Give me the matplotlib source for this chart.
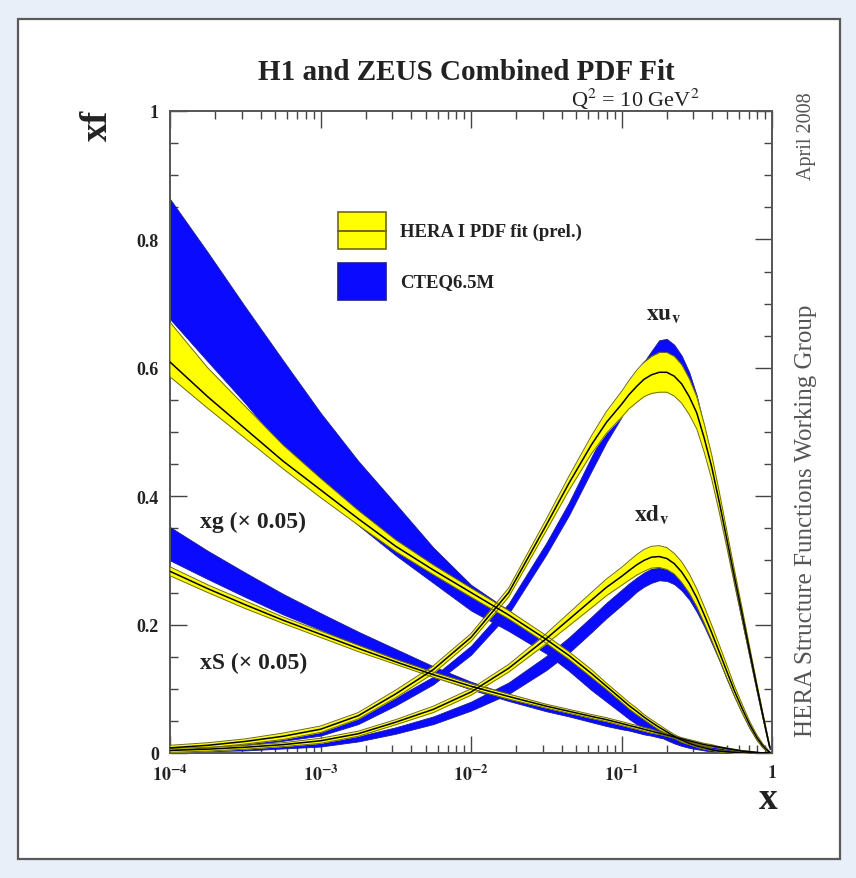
import numpy as np
import matplotlib.pyplot as plt
from matplotlib.patches import Rectangle
from matplotlib.ticker import LogLocator, MultipleLocator, FuncFormatter, NullFormatter

plt.rcParams['font.family'] = ['Liberation Serif', 'DejaVu Serif']
plt.rcParams['mathtext.fontset'] = 'stix'

x = [1e-4, 1.78e-4, 3.16e-4, 5.62e-4, 1e-3, 1.78e-3, 3.16e-3, 5.62e-3, 0.01, 0.0178, 0.0316, 0.0447,
     0.0631, 0.0794, 0.1, 0.112, 0.126, 0.141, 0.158, 0.178, 0.2, 0.224, 0.251, 0.282,
     0.316, 0.355, 0.398, 0.447, 0.501, 0.562, 0.631, 0.708, 0.794, 0.871, 0.933, 0.966]

# gluon (x 0.05)
g_hera = [0.609, 0.555, 0.505, 0.455, 0.410, 0.365, 0.322, 0.285, 0.250, 0.215, 0.177, 0.152,
          0.124, 0.104, 0.084, 0.074, 0.065, 0.056, 0.048, 0.040, 0.033, 0.026, 0.020, 0.015,
          0.011, 0.008, 0.005, 0.003, 0.002, 0.001, 0, 0, 0, 0, 0, 0]
g_hera_lo = [0.586, 0.537, 0.490, 0.443, 0.398, 0.355, 0.314, 0.278, 0.243, 0.209, 0.171, 0.146,
             0.118, 0.099, 0.079, 0.069, 0.060, 0.052, 0.044, 0.036, 0.030, 0.023, 0.017, 0.013,
             0.009, 0.006, 0.004, 0.002, 0.001, 0, 0, 0, 0, 0, 0, 0]
g_hera_hi = [0.671, 0.600, 0.540, 0.480, 0.428, 0.378, 0.332, 0.293, 0.257, 0.222, 0.183, 0.158,
             0.130, 0.109, 0.089, 0.079, 0.070, 0.060, 0.052, 0.044, 0.036, 0.029, 0.023, 0.017,
             0.013, 0.010, 0.006, 0.004, 0.003, 0.002, 0.001, 0, 0, 0, 0, 0]
g_cteq_lo = [0.676, 0.610, 0.545, 0.475, 0.410, 0.355, 0.308, 0.265, 0.222, 0.190, 0.155, 0.128,
             0.098, 0.080, 0.062, 0.053, 0.045, 0.038, 0.032, 0.026, 0.020, 0.015, 0.011, 0.008,
             0.006, 0.004, 0.002, 0.001, 0, 0, 0, 0, 0, 0, 0, 0]
g_cteq_hi = [0.863, 0.780, 0.695, 0.612, 0.530, 0.455, 0.388, 0.320, 0.262, 0.222, 0.180, 0.152,
             0.124, 0.103, 0.083, 0.072, 0.063, 0.054, 0.046, 0.038, 0.031, 0.025, 0.019, 0.015,
             0.011, 0.008, 0.005, 0.003, 0.002, 0.001, 0, 0, 0, 0, 0, 0]

# sea (x 0.05)
s_hera = [0.283, 0.256, 0.231, 0.207, 0.185, 0.163, 0.142, 0.122, 0.104, 0.088, 0.073, 0.065,
          0.057, 0.052, 0.046, 0.043, 0.040, 0.037, 0.034, 0.031, 0.028, 0.025, 0.022, 0.019,
          0.016, 0.013, 0.011, 0.009, 0.007, 0.005, 0.003, 0.002, 0.001, 0, 0, 0]
s_hera_err = [0.007, 0.006, 0.006, 0.005, 0.005, 0.005, 0.004, 0.004, 0.004, 0.004, 0.003, 0.003,
              0.003, 0.003, 0.003, 0.003, 0.003, 0.003, 0.003, 0.002, 0.002, 0.002, 0.002, 0.002,
              0.002, 0.002, 0.002, 0.001, 0.001, 0.001, 0.001, 0.001, 0, 0, 0, 0]
s_cteq = [0.326, 0.293, 0.262, 0.232, 0.205, 0.178, 0.152, 0.127, 0.105, 0.086, 0.070, 0.061,
          0.052, 0.046, 0.041, 0.038, 0.035, 0.032, 0.030, 0.027, 0.024, 0.021, 0.018, 0.015,
          0.013, 0.011, 0.009, 0.007, 0.005, 0.003, 0.002, 0.001, 0, 0, 0, 0]
s_cteq_err = [0.026, 0.022, 0.019, 0.016, 0.013, 0.011, 0.010, 0.008, 0.006, 0.005, 0.005, 0.004,
              0.004, 0.004, 0.004, 0.003, 0.003, 0.003, 0.003, 0.003, 0.002, 0.002, 0.002, 0.002,
              0.002, 0.002, 0.002, 0.001, 0.001, 0.001, 0.001, 0, 0, 0, 0, 0]

# u valence
u_hera = [0.008, 0.012, 0.018, 0.026, 0.037, 0.058, 0.092, 0.130, 0.180, 0.250, 0.355, 0.420,
          0.480, 0.515, 0.543, 0.558, 0.571, 0.582, 0.589, 0.593, 0.593, 0.587, 0.575, 0.555,
          0.530, 0.490, 0.445, 0.390, 0.333, 0.275, 0.218, 0.160, 0.103, 0.058, 0.025, 0.009]
u_hera_err = [0.004, 0.004, 0.004, 0.005, 0.005, 0.005, 0.006, 0.006, 0.006, 0.007, 0.009, 0.011,
              0.014, 0.017, 0.020, 0.022, 0.025, 0.027, 0.029, 0.031, 0.031, 0.031, 0.030, 0.028,
              0.025, 0.022, 0.019, 0.016, 0.013, 0.011, 0.009, 0.007, 0.005, 0.004, 0.003, 0.002]
u_cteq = [0.007, 0.010, 0.016, 0.023, 0.032, 0.050, 0.080, 0.113, 0.160, 0.225, 0.318, 0.380,
          0.450, 0.495, 0.535, 0.556, 0.576, 0.595, 0.612, 0.628, 0.630, 0.622, 0.605, 0.580,
          0.545, 0.497, 0.445, 0.388, 0.330, 0.270, 0.212, 0.155, 0.098, 0.054, 0.023, 0.008]
u_cteq_err = [0.003, 0.003, 0.004, 0.004, 0.005, 0.005, 0.006, 0.006, 0.007, 0.008, 0.009, 0.010,
              0.011, 0.011, 0.012, 0.012, 0.013, 0.014, 0.014, 0.015, 0.015, 0.014, 0.014, 0.013,
              0.012, 0.011, 0.010, 0.009, 0.008, 0.007, 0.006, 0.005, 0.004, 0.003, 0.002, 0.002]

# d valence
d_hera = [0.004, 0.006, 0.009, 0.013, 0.019, 0.030, 0.048, 0.068, 0.095, 0.132, 0.178, 0.208,
          0.238, 0.258, 0.275, 0.284, 0.293, 0.300, 0.305, 0.306, 0.303, 0.295, 0.282, 0.264,
          0.242, 0.215, 0.187, 0.157, 0.127, 0.097, 0.070, 0.045, 0.024, 0.011, 0.004, 0.001]
d_hera_err = [0.003, 0.003, 0.003, 0.003, 0.004, 0.004, 0.004, 0.005, 0.005, 0.006, 0.008, 0.010,
              0.012, 0.013, 0.014, 0.015, 0.016, 0.017, 0.017, 0.017, 0.017, 0.016, 0.016, 0.015,
              0.014, 0.013, 0.012, 0.011, 0.010, 0.008, 0.007, 0.005, 0.004, 0.003, 0.002, 0.001]
d_cteq = [0.003, 0.005, 0.007, 0.010, 0.014, 0.022, 0.035, 0.051, 0.073, 0.101, 0.140, 0.168,
          0.200, 0.222, 0.242, 0.252, 0.262, 0.270, 0.276, 0.279, 0.278, 0.272, 0.262, 0.247,
          0.228, 0.204, 0.178, 0.150, 0.121, 0.093, 0.067, 0.043, 0.023, 0.010, 0.004, 0.001]
d_cteq_err = [0.002, 0.002, 0.003, 0.003, 0.004, 0.004, 0.005, 0.006, 0.007, 0.009, 0.011, 0.012,
              0.012, 0.012, 0.012, 0.012, 0.011, 0.011, 0.011, 0.010, 0.010, 0.009, 0.009, 0.008,
              0.008, 0.007, 0.007, 0.006, 0.006, 0.005, 0.004, 0.004, 0.003, 0.002, 0.001, 0.001]

W, H = 856, 879
YEL = '#ffff00'
YEL_EDGE = '#6e6a10'
BLUE = '#0a0aff'
BLUE_EDGE = '#1c1c90'
INK = '#222222'


def fx(px):
    return px / W


def fy(py):
    return 1 - py / H


fig = plt.figure(figsize=(W / 100, H / 100), dpi=100)
fig.patch.set_facecolor('#e9eff8')
fig.patches.append(Rectangle((fx(18), fy(860)), (840 - 18) / W, (860 - 20) / H,
                             transform=fig.transFigure, facecolor='white',
                             edgecolor='#5a5a5a', lw=1.6, zorder=-5))

ax = fig.add_axes([fx(170), fy(754), 602 / W, 642 / H])
ax.set_zorder(2)
ax.set_facecolor('white')
xa = np.array(x)


def band_cteq(c_lo, c_hi):
    ax.fill_between(xa, c_lo, c_hi, color=BLUE, lw=0.6, edgecolor=BLUE_EDGE, zorder=2)


def band_hera(c, lo, hi):
    ax.fill_between(xa, lo, hi, color=YEL, lw=0, zorder=3)
    ax.plot(xa, lo, color=YEL_EDGE, lw=0.7, zorder=4)
    ax.plot(xa, hi, color=YEL_EDGE, lw=0.7, zorder=4)
    ax.plot(xa, c, color='black', lw=1.1, zorder=5)


s_c, s_ce = np.array(s_cteq), np.array(s_cteq_err)
u_c, u_ce = np.array(u_cteq), np.array(u_cteq_err)
d_c, d_ce = np.array(d_cteq), np.array(d_cteq_err)
band_cteq(g_cteq_lo, g_cteq_hi)
band_cteq(s_c - s_ce, s_c + s_ce)
band_cteq(u_c - u_ce, u_c + u_ce)
band_cteq(d_c - d_ce, d_c + d_ce)

s_h, s_he = np.array(s_hera), np.array(s_hera_err)
u_h, u_he = np.array(u_hera), np.array(u_hera_err)
d_h, d_he = np.array(d_hera), np.array(d_hera_err)
band_hera(g_hera, g_hera_lo, g_hera_hi)
band_hera(s_h, s_h - s_he, s_h + s_he)
band_hera(u_h, u_h - u_he, u_h + u_he)
band_hera(d_h, d_h - d_he, d_h + d_he)

ax.set_xscale('log')
ax.set_xlim(1e-4, 1)
ax.set_ylim(0, 1)

ax.xaxis.set_major_locator(LogLocator(base=10, numticks=10))
ax.xaxis.set_minor_locator(LogLocator(base=10, subs=np.arange(2, 10), numticks=20))
ax.xaxis.set_minor_formatter(NullFormatter())


def xfmt(v, pos):
    if v >= 0.99:
        return r'$\mathbf{1}$'
    e = int(round(np.log10(v)))
    return r'$\mathbf{10^{%d}}$' % e


def yfmt(v, pos):
    if abs(v) < 1e-6:
        return '0'
    if abs(v - 1) < 1e-6:
        return '1'
    return '%.1f' % v


ax.xaxis.set_major_formatter(FuncFormatter(xfmt))
ax.yaxis.set_major_locator(MultipleLocator(0.2))
ax.yaxis.set_minor_locator(MultipleLocator(0.05))
ax.yaxis.set_major_formatter(FuncFormatter(yfmt))

ax.tick_params(which='both', direction='in', top=True, right=True, color='#444444', width=1.0)
ax.tick_params(which='major', length=12, labelsize=13, pad=8, labelcolor=INK)
ax.tick_params(which='minor', length=6)
for lab in ax.get_yticklabels():
    lab.set_fontweight('bold')
for sp in ax.spines.values():
    sp.set_color('#555555')
    sp.set_linewidth(1.4)

# legend drawn by hand
lx0, lw_ = (338 - 170) / 602, 48 / 602
ax.add_patch(Rectangle((lx0, (754 - 250) / 642), lw_, 37 / 642, transform=ax.transAxes,
                       facecolor=YEL, edgecolor=YEL_EDGE, lw=1.2, zorder=6))
ax.plot([lx0, lx0 + lw_], [(754 - 232) / 642] * 2, transform=ax.transAxes,
        color=YEL_EDGE, lw=1.4, zorder=7)
ax.add_patch(Rectangle((lx0, (754 - 301) / 642), lw_, 37 / 642, transform=ax.transAxes,
                       facecolor=BLUE, edgecolor=BLUE_EDGE, lw=1.2, zorder=6))
fig.text(fx(400), fy(232), 'HERA I PDF fit (prel.)', fontsize=13.5, fontweight='bold',
         va='center', ha='left', color=INK, zorder=10)
fig.text(fx(400), fy(283), 'CTEQ6.5M', fontsize=13.5, fontweight='bold',
         va='center', ha='left', color=INK, zorder=10)

# text
fig.text(fx(466), fy(72), 'H1 and ZEUS Combined PDF Fit', fontsize=21, fontweight='bold',
         ha='center', va='center', color=INK)
fig.text(fx(97), fy(125), 'xf', fontsize=27, fontweight='bold', rotation=90,
         ha='center', va='center', color=INK)
fig.text(fx(768), fy(800), 'x', fontsize=27, fontweight='bold',
         ha='center', va='center', color=INK)
fig.text(fx(635), fy(99), r'Q$^{2}$ = 10 GeV$^{2}$', fontsize=16,
         ha='center', va='center', color=INK, zorder=10)
fig.text(fx(664), fy(315), r'$\mathbf{xu_{v}}$', fontsize=17,
         ha='center', va='center', color=INK, zorder=10)
fig.text(fx(652), fy(515), r'$\mathbf{xd_{v}}$', fontsize=17,
         ha='center', va='center', color=INK, zorder=10)
fig.text(fx(200), fy(522), u'xg (\u00d7 0.05)', fontsize=17, fontweight='bold',
         ha='left', va='center', color=INK, zorder=10)
fig.text(fx(200), fy(663), u'xS (\u00d7 0.05)', fontsize=17, fontweight='bold',
         ha='left', va='center', color=INK, zorder=10)
fig.text(fx(806), fy(136), 'April 2008', fontsize=14.5, rotation=90,
         ha='center', va='center', color='#555555')
fig.text(fx(806), fy(521), 'HERA Structure Functions Working Group', fontsize=18, rotation=90,
         ha='center', va='center', color='#555555')

fig.savefig('out.png', dpi=100, facecolor=fig.get_facecolor())
